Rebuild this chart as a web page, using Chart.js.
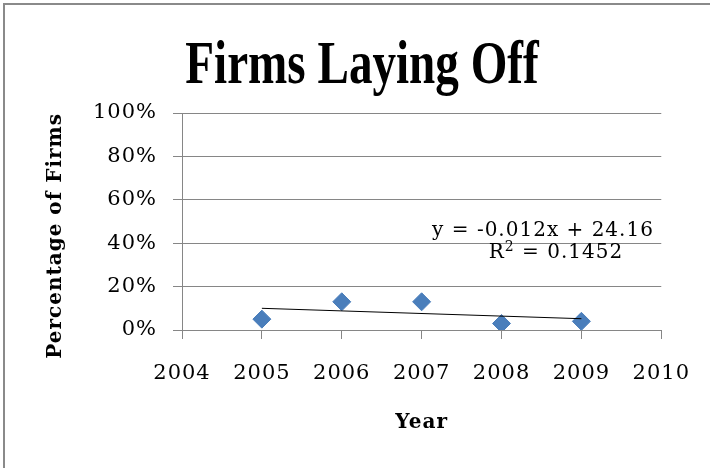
<!DOCTYPE html>
<html>
<head>
<meta charset="utf-8">
<script src="https://cdn.jsdelivr.net/npm/chart.js@4.4.0/dist/chart.umd.min.js"></script>
<style>
  html, body { margin: 0; padding: 0; background: #fff; }
  #wrap { position: relative; width: 710px; height: 468px; }
  #frame {
    position: absolute; left: 3px; top: 3px; right: 0; bottom: 0;
    border-left: 2px solid #8a8a8a; border-top: 2px solid #8a8a8a;
    pointer-events: none;
  }
</style>
</head>
<body>
<div id="wrap">
  <canvas id="layoffs" width="710" height="468"></canvas>
  <div id="frame"></div>
</div>
<script>
var years = [2005, 2006, 2007, 2008, 2009];
var pctLayingOff = [0.05, 0.13, 0.13, 0.03, 0.04];
var yearTicks = [2004, 2005, 2006, 2007, 2008, 2009, 2010];
var pctTicks = [0, 0.2, 0.4, 0.6, 0.8, 1];

// linear trendline as reported next to the series
var trendSlope = -0.012;
var trendIntercept = 24.16;
var trendR2 = 0.1452;

var chartTitle = "Firms Laying Off";
var xTitle = "Year";
var yTitle = "Percentage of Firms";

var points = years.map(function (yr, i) { return { x: yr, y: pctLayingOff[i] }; });
var first = years[0], last = years[years.length - 1];
var trendPoints = [
  { x: first, y: trendSlope * first + trendIntercept },
  { x: last, y: trendSlope * last + trendIntercept }
];

var gridGray = '#868686';
var serif = '"DejaVu Serif", "Liberation Serif", serif';

// R^2 with a real superscript, centred on cx
function drawR2(ctx, cx, cy) {
  var big = '20px ' + serif, small = '14px ' + serif;
  var rest = ' = ' + trendR2;
  ctx.font = big;
  var wR = ctx.measureText('R').width, wRest = ctx.measureText(rest).width;
  ctx.font = small;
  var w2 = ctx.measureText('2').width;
  var x = cx - (wR + w2 + wRest) / 2;
  ctx.textAlign = 'left';
  ctx.font = big;
  ctx.fillText('R', x, cy);
  ctx.font = small;
  ctx.fillText('2', x + wR, cy - 6);
  ctx.font = big;
  ctx.fillText(rest, x + wR + w2, cy);
}

// slightly spaced text for axes, condensed title drawn on top
var textPlugin = {
  id: 'textBits',
  beforeDraw: function (chart) {
    chart.ctx.letterSpacing = '1px';
  },
  afterDatasetsDraw: function (chart) {
    var ctx = chart.ctx;
    ctx.save();
    ctx.font = '20px ' + serif;
    ctx.fillStyle = '#000';
    ctx.textAlign = 'center';
    ctx.textBaseline = 'middle';
    ctx.fillText('y = ' + trendSlope + 'x + ' + trendIntercept, 543, 231);
    drawR2(ctx, 556, 253);
    ctx.restore();
  },
  afterDraw: function (chart) {
    var ctx = chart.ctx;
    ctx.save();
    ctx.letterSpacing = '0px';
    ctx.font = 'bold 62px "Liberation Serif", serif';
    ctx.fillStyle = '#000';
    ctx.textAlign = 'center';
    ctx.textBaseline = 'alphabetic';
    ctx.translate(362, 83);
    ctx.scale(0.76, 1);
    ctx.fillText(chartTitle, 0, 0);
    ctx.restore();
  }
};

var ctx = document.getElementById('layoffs').getContext('2d');
var chart = new Chart(ctx, {
  type: 'scatter',
  data: {
    datasets: [
      {
        label: 'Trend',
        type: 'line',
        data: trendPoints,
        borderColor: '#000',
        borderWidth: 1,
        pointRadius: 0,
        fill: false,
        order: 0
      },
      {
        label: 'Firms laying off',
        data: points,
        pointStyle: 'rectRot',
        pointRadius: 9,
        pointBackgroundColor: '#4a7ebb',
        pointBorderColor: '#4a7ebb',
        pointBorderWidth: 1,
        showLine: false,
        order: 1
      }
    ]
  },
  options: {
    responsive: false,
    animation: false,
    layout: { padding: { top: 113, right: 48, bottom: 0, left: 0 } },
    plugins: {
      legend: { display: false },
      tooltip: { enabled: false }
    },
    scales: {
      x: {
        type: 'linear',
        min: 2004,
        max: 2010,
        afterBuildTicks: function (scale) {
          scale.ticks = yearTicks.map(function (v) { return { value: v }; });
        },
        afterFit: function (scale) { scale.height = 138; },
        grid: { drawOnChartArea: false, drawTicks: true, tickLength: 9, color: gridGray },
        border: { display: true, color: gridGray, width: 1 },
        ticks: {
          padding: 22,
          color: '#000',
          font: { family: serif, size: 21 },
          maxRotation: 0,
          callback: function (v) { return String(v); }
        },
        title: {
          display: true,
          text: xTitle,
          color: '#000',
          font: { family: serif, size: 20, weight: 'bold' },
          padding: { top: 0, bottom: 33 }
        }
      },
      y: {
        min: 0,
        max: 1,
        afterBuildTicks: function (scale) {
          scale.ticks = pctTicks.map(function (v) { return { value: v }; });
        },
        afterFit: function (scale) { scale.width = 182; },
        grid: { drawOnChartArea: true, drawTicks: true, tickLength: 9, color: gridGray },
        border: { display: true, color: gridGray, width: 1 },
        ticks: {
          padding: 16,
          color: '#000',
          font: { family: serif, size: 21 },
          callback: function (v) { return Math.round(v * 100) + '%'; }
        },
        title: {
          display: true,
          text: yTitle,
          align: 'end',
          color: '#000',
          font: { family: serif, size: 20, weight: 'bold' },
          padding: { top: 44, bottom: 0 }
        }
      }
    }
  },
  plugins: [textPlugin]
});
</script>
</body>
</html>
